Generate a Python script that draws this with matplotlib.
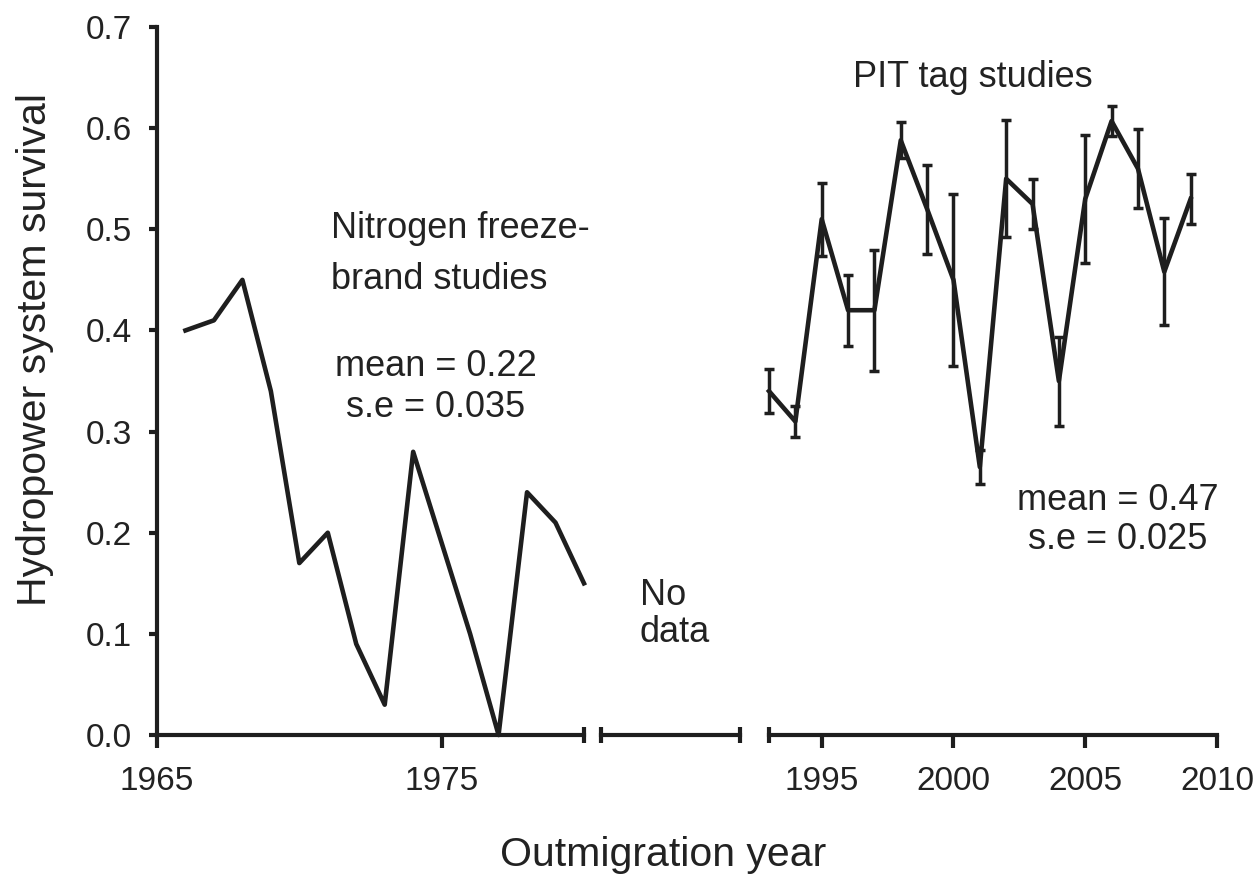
import matplotlib.pyplot as plt

plt.rcParams['font.family'] = ['Liberation Sans', 'DejaVu Sans']

# freeze-brand studies (no error bars)
brand_years = list(range(1966, 1981))
brand_surv = [0.40, 0.41, 0.45, 0.34, 0.17, 0.20, 0.09, 0.03, 0.28, 0.19,
              0.10, 0.00, 0.24, 0.21, 0.15]

# PIT tag studies with standard errors
pit_years = list(range(1993, 2010))
pit_surv = [0.34, 0.31, 0.51, 0.42, 0.42, 0.588, 0.52, 0.45, 0.265, 0.55,
            0.525, 0.35, 0.53, 0.607, 0.56, 0.458, 0.53]
pit_se = [0.022, 0.015, 0.036, 0.035, 0.06, 0.018, 0.044, 0.085, 0.017, 0.058,
          0.025, 0.044, 0.063, 0.015, 0.039, 0.053, 0.025]

y_ticks = [0.0, 0.1, 0.2, 0.3, 0.4, 0.5, 0.6, 0.7]
left_ticks = [1965, 1975]
right_ticks = [1995, 2000, 2005, 2010]

ink = "#1e1e1e"
lw = 3.0

fig = plt.figure(figsize=(12.58, 8.77), dpi=100)
bottom, height = 0.1619, 0.8073
ax1 = fig.add_axes([0.1248, bottom, 0.3394, height])
ax2 = fig.add_axes([0.4777, bottom, 0.1105, height])
ax3 = fig.add_axes([0.6113, bottom, 0.3561, height])

for ax in (ax1, ax2, ax3):
    ax.set_ylim(0, 0.7)
    ax.patch.set_alpha(0)
    for s in ("top", "right", "left"):
        ax.spines[s].set_visible(False)
    ax.spines["bottom"].set_linewidth(lw)
    ax.spines["bottom"].set_color(ink)
    ax.tick_params(axis="x", which="major", direction="out", length=9,
                   width=lw, color=ink, labelsize=24, labelcolor="#222222",
                   pad=13)
    ax.tick_params(axis="x", which="minor", direction="inout", length=11,
                   width=lw, color=ink)
    ax.tick_params(axis="y", left=False, labelleft=False)

# left segment: 1965-1980
ax1.spines["left"].set_visible(True)
ax1.spines["left"].set_linewidth(lw)
ax1.spines["left"].set_color(ink)
ax1.set_xlim(1965, 1980)
ax1.set_xticks(left_ticks)
ax1.set_xticks([1980], minor=True)
ax1.set_yticks(y_ticks)
ax1.set_yticklabels([f"{v:.1f}" for v in y_ticks])
ax1.tick_params(axis="y", left=True, labelleft=True, direction="out",
                length=6, width=lw, color=ink, labelsize=24,
                labelcolor="#222222", pad=12)
ax1.plot(brand_years, brand_surv, color=ink, lw=3.3, clip_on=False)

# middle segment: gap
ax2.set_xlim(0, 1)
ax2.set_xticks([])
ax2.set_xticks([0, 1], minor=True)
ax2.text(0.28, 0.138, "No", fontsize=26, color="#222222", va="center")
ax2.text(0.28, 0.101, "data", fontsize=26, color="#222222", va="center")

# right segment: 1993-2010
ax3.set_xlim(1993, 2010)
ax3.set_xticks(right_ticks)
ax3.set_xticks([1993], minor=True)
ax3.errorbar(pit_years, pit_surv, yerr=pit_se, color=ink, lw=3.3,
             elinewidth=2.5, capsize=3.8, capthick=2.5, clip_on=False)

# annotations
tc = "#222222"
ax1.text(1971.1, 0.501, "Nitrogen freeze-", fontsize=26, color=tc, va="center")
ax1.text(1971.1, 0.450, "brand studies", fontsize=26, color=tc, va="center")
ax1.text(1974.8, 0.364, "mean = 0.22", fontsize=26, color=tc, ha="center", va="center")
ax1.text(1974.8, 0.324, "s.e = 0.035", fontsize=26, color=tc, ha="center", va="center")
ax3.text(2000.75, 0.650, "PIT tag studies", fontsize=26, color=tc, ha="center", va="center")
ax3.text(2006.25, 0.232, "mean = 0.47", fontsize=26, color=tc, ha="center", va="center")
ax3.text(2006.25, 0.193, "s.e = 0.025", fontsize=26, color=tc, ha="center", va="center")

fig.text(0.527, 0.025, "Outmigration year", fontsize=29.5, color=tc,
         ha="center", va="center")
fig.text(0.028, 0.601, "Hydropower system survival", fontsize=29.5,
         color=tc, ha="center", va="center", rotation=90)

fig.savefig("out.png", dpi=100)
